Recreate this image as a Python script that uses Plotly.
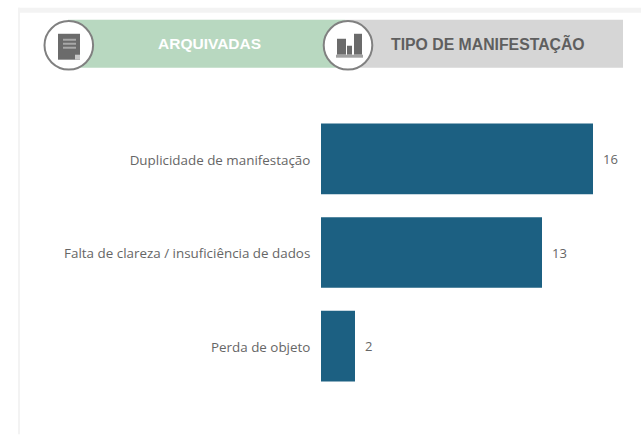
import plotly.graph_objects as go

categories = ["Duplicidade de manifestação", "Falta de clareza / insuficiência de dados", "Perda de objeto"]
values = [16, 13, 2]
title_left = "ARQUIVADAS"
title_right = "TIPO DE MANIFESTAÇÃO"

W, H = 641, 435
BAR = "#1C6082"
LABEL = "#666666"
ICON = "#6B6B6B"
PL, PR, PT, PB = 321, 627, 111.5, 393.5

def px(x): return (x - PL) / (PR - PL)
def py(y): return (PB - y) / (PB - PT)

def rect(x0, y0, x1, y1, color):
    return dict(type="rect", xref="paper", yref="paper", x0=px(x0), x1=px(x1), y0=py(y1), y1=py(y0),
                fillcolor=color, line=dict(width=0), layer="below")

def circle(cx, cy, r):
    return dict(type="circle", xref="paper", yref="paper", x0=px(cx - r), x1=px(cx + r), y0=py(cy + r), y1=py(cy - r),
                fillcolor="white", line=dict(color="#808080", width=2), layer="below")

shapes = [
    rect(18, 7, 641, 12, "#F3F3F3"),
    rect(18, 7, 20, 435, "#F3F3F3"),
    rect(68, 19, 345, 67, "#B8D8C0"),
    rect(345, 19, 623, 67, "#D6D6D6"),
    circle(68.8, 44.6, 24.3),
    circle(348, 44.6, 24.3),
    # document icon
    rect(58, 33, 80, 59, ICON),
    rect(63, 38, 76, 40, "#A8A8A8"),
    rect(63, 42, 76, 44, "#A8A8A8"),
    rect(63, 46, 76, 48, "#A8A8A8"),
    rect(75, 54, 80, 59, "#C8C8C8"),
    # chart icon
    rect(337, 38, 346, 54, ICON),
    rect(347, 45, 352, 54, ICON),
    rect(354, 33, 362, 54, ICON),
    rect(336, 54, 363, 57, "#A0A0A0"),
]

fig = go.Figure(go.Bar(
    x=values, y=categories, orientation="h",
    marker=dict(color=BAR, line=dict(width=0)),
    hoverinfo="skip",
))

annotations = [
    dict(x=v, y=c, xref="x", yref="y", text=str(v), showarrow=False, xanchor="left", yanchor="middle", xshift=8,
         font=dict(family="Open Sans", size=13, color=LABEL))
    for c, v in zip(categories, values)
]
annotations += [
    dict(x=px(209.5), y=py(43), xref="paper", yref="paper", text=f"<b>{title_left}</b>", showarrow=False,
         xanchor="center", yanchor="middle",
         font=dict(family="Liberation Sans", size=15.5, color="white")),
    dict(x=px(488), y=py(43), xref="paper", yref="paper", text=f"<b>{title_right}</b>", showarrow=False,
         xanchor="center", yanchor="middle",
         font=dict(family="Liberation Sans", size=15.8, color="#5F5F5F")),
]

fig.update_layout(
    width=W, height=H, autosize=False,
    margin=dict(l=PL, r=W - PR, t=PT, b=H - PB, pad=0),
    paper_bgcolor="white", plot_bgcolor="white",
    bargap=0.245, showlegend=False,
    shapes=shapes, annotations=annotations,
    xaxis=dict(range=[0, 18], visible=False, fixedrange=True),
    yaxis=dict(autorange="reversed", showline=False, showgrid=False, zeroline=False,
               ticks="outside", ticklen=7, tickcolor="rgba(0,0,0,0)", ticklabelshift=-1,
               tickfont=dict(family="Open Sans", size=13.4, color=LABEL), fixedrange=True),
)

fig.write_html("out.html", config=dict(displayModeBar=False),
               post_script="document.body.style.margin='0';")
